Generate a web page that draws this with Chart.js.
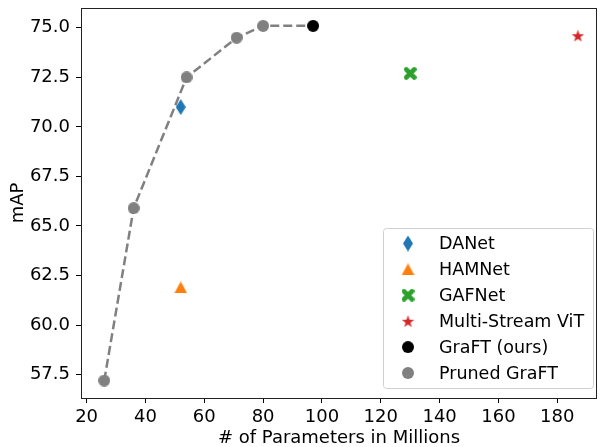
<!DOCTYPE html>
<html>
<head>
<meta charset="utf-8">
<script src="https://cdn.jsdelivr.net/npm/chart.js@4/dist/chart.umd.min.js"></script>
<style>
  html, body { margin: 0; padding: 0; background: #fff; }
  #wrap { width: 602px; height: 447px; }
</style>
</head>
<body>
<div id="wrap"><canvas id="paramChart"></canvas></div>
<script>
"use strict";

// values
const prunedParams = [26, 36, 54, 71, 80];
const prunedMap = [57.2, 65.9, 72.5, 74.5, 75.1];
const graftParams = [97];
const graftMap = [75.1];
const danetParams = [52];
const danetMap = [71.0];
const hamnetParams = [52];
const hamnetMap = [61.9];
const gafnetParams = [130];
const gafnetMap = [72.7];
const msvitParams = [187];
const msvitMap = [74.6];

const xTicks = [20, 40, 60, 80, 100, 120, 140, 160, 180];
const yTicks = [57.5, 60.0, 62.5, 65.0, 67.5, 70.0, 72.5, 75.0];

const toPoints = (xs, ys) => xs.map((x, i) => ({ x: x, y: ys[i] }));

// little canvases used as point styles (matplotlib-like markers)
function marker(shape, color, w, h) {
  const c = document.createElement("canvas");
  c.width = w;
  c.height = h;
  const g = c.getContext("2d");
  g.fillStyle = color;
  g.strokeStyle = color;
  g.beginPath();
  if (shape === "diamond") {
    g.moveTo(w / 2, 0);
    g.lineTo(w, h / 2);
    g.lineTo(w / 2, h);
    g.lineTo(0, h / 2);
    g.closePath();
    g.fill();
  } else if (shape === "triangle") {
    g.moveTo(w / 2, 0);
    g.lineTo(w, h);
    g.lineTo(0, h);
    g.closePath();
    g.fill();
  } else if (shape === "x") {
    g.lineWidth = 4.6;
    g.lineCap = "round";
    g.moveTo(2.5, 2.5);
    g.lineTo(w - 2.5, h - 2.5);
    g.moveTo(w - 2.5, 2.5);
    g.lineTo(2.5, h - 2.5);
    g.stroke();
  } else if (shape === "star") {
    const cx = w / 2, cy = h / 2 + 0.6, ro = w / 2, ri = ro * 0.4;
    for (let i = 0; i < 10; i++) {
      const r = i % 2 === 0 ? ro : ri;
      const a = -Math.PI / 2 + (i * Math.PI) / 5;
      const px = cx + r * Math.cos(a), py = cy + r * Math.sin(a);
      if (i === 0) g.moveTo(px, py); else g.lineTo(px, py);
    }
    g.closePath();
    g.fill();
  } else {
    g.arc(w / 2, h / 2, w / 2, 0, Math.PI * 2);
    g.fill();
  }
  return c;
}

const mDiamond = marker("diamond", "#1f77b4", 10, 16);
const mTriangle = marker("triangle", "#ff7f0e", 13, 12);
const mX = marker("x", "#2ca02c", 13, 13);
const mStar = marker("star", "#d62728", 13, 13);
const mBlack = marker("circle", "#000000", 12, 12);
const mGray = marker("circle", "#808080", 12, 12);

Chart.defaults.font.family = "'DejaVu Sans', sans-serif";
Chart.defaults.font.size = 18;
Chart.defaults.color = "#000";

// legend box inside the plot, lower right, like matplotlib
const boxLegend = {
  id: "boxLegend",
  afterDraw(chart) {
    const ctx = chart.ctx;
    const area = chart.chartArea;
    const items = chart.data.datasets.filter((d) => d.showInLegend);
    const rowH = 25.9;
    const w = 210, h = 160;
    const x0 = area.right - 4 - w, y0 = area.bottom - 10 - h;
    ctx.save();
    ctx.fillStyle = "rgba(255,255,255,0.8)";
    ctx.strokeStyle = "#d0d0d0";
    ctx.lineWidth = 1;
    ctx.beginPath();
    ctx.roundRect(x0 + 0.5, y0 + 0.5, w, h, 3);
    ctx.fill();
    ctx.stroke();
    ctx.font = "17.5px 'DejaVu Sans', sans-serif";
    ctx.fillStyle = "#000";
    ctx.textBaseline = "middle";
    items.forEach((d, i) => {
      const cy = y0 + 15.5 + i * rowH;
      const img = d.pointStyle;
      ctx.drawImage(img, x0 + 25 - img.width / 2, cy - img.height / 2);
      ctx.fillText(d.label, x0 + 56, cy + 1);
    });
    ctx.restore();
  },
};

// full box around the plot area
const frame = {
  id: "frame",
  beforeDatasetsDraw(chart) {
    const a = chart.chartArea;
    const ctx = chart.ctx;
    ctx.save();
    ctx.strokeStyle = "#222";
    ctx.lineWidth = 1;
    ctx.strokeRect(Math.round(a.left) + 0.5, Math.round(a.top) + 0.5,
      Math.round(a.right - a.left) - 1, Math.round(a.bottom - a.top));
    ctx.restore();
  },
};

const ctx = document.getElementById("paramChart").getContext("2d");

new Chart(ctx, {
  type: "scatter",
  data: {
    datasets: [
      {
        label: "trend",
        data: toPoints(prunedParams.concat(graftParams), prunedMap.concat(graftMap)),
        showLine: true,
        borderColor: "#808080",
        borderWidth: 2.5,
        borderDash: [9, 4],
        pointRadius: 0,
        order: 10,
      },
      { label: "DANet", data: toPoints(danetParams, danetMap), pointStyle: mDiamond, showInLegend: true },
      { label: "HAMNet", data: toPoints(hamnetParams, hamnetMap), pointStyle: mTriangle, showInLegend: true },
      { label: "GAFNet", data: toPoints(gafnetParams, gafnetMap), pointStyle: mX, showInLegend: true },
      { label: "Multi-Stream ViT", data: toPoints(msvitParams, msvitMap), pointStyle: mStar, showInLegend: true },
      { label: "GraFT (ours)", data: toPoints(graftParams, graftMap), pointStyle: mBlack, showInLegend: true },
      { label: "Pruned GraFT", data: toPoints(prunedParams, prunedMap), pointStyle: mGray, showInLegend: true },
    ],
  },
  options: {
    responsive: true,
    maintainAspectRatio: false,
    animation: false,
    layout: { padding: { top: 8, right: 1, left: 0, bottom: 0 } },
    plugins: {
      legend: { display: false },
      tooltip: { enabled: false },
    },
    scales: {
      x: {
        type: "linear",
        min: 18.1,
        max: 193.5,
        bounds: "data",
        afterFit: (s) => { s.height = 49; s.paddingLeft = 0; s.paddingRight = 0; },
        afterBuildTicks: (s) => { s.ticks = xTicks.map((v) => ({ value: v })); },
        ticks: { includeBounds: false, padding: 4, maxRotation: 0, callback: (v) => String(v) },
        grid: { drawOnChartArea: false, drawTicks: true, tickLength: 5, tickColor: "#000" },
        border: { display: false },
        title: {
          display: true,
          text: "# of Parameters in Millions",
          font: { size: 18, lineHeight: 1 },
          padding: { top: -2, bottom: 0 },
        },
      },
      y: {
        min: 56.32,
        max: 76.0,
        bounds: "data",
        afterFit: (s) => { s.width = 81; s.paddingTop = 0; s.paddingBottom = 0; },
        afterBuildTicks: (s) => { s.ticks = yTicks.map((v) => ({ value: v })); },
        ticks: { includeBounds: false, padding: 6, callback: (v) => Number(v).toFixed(1) },
        grid: { drawOnChartArea: false, drawTicks: true, tickLength: 5, tickColor: "#000" },
        border: { display: false },
        title: {
          display: true,
          text: "mAP",
          font: { size: 18, lineHeight: 1 },
          padding: { top: 9, bottom: 0 },
        },
      },
    },
  },
  plugins: [frame, boxLegend],
});
</script>
</body>
</html>
